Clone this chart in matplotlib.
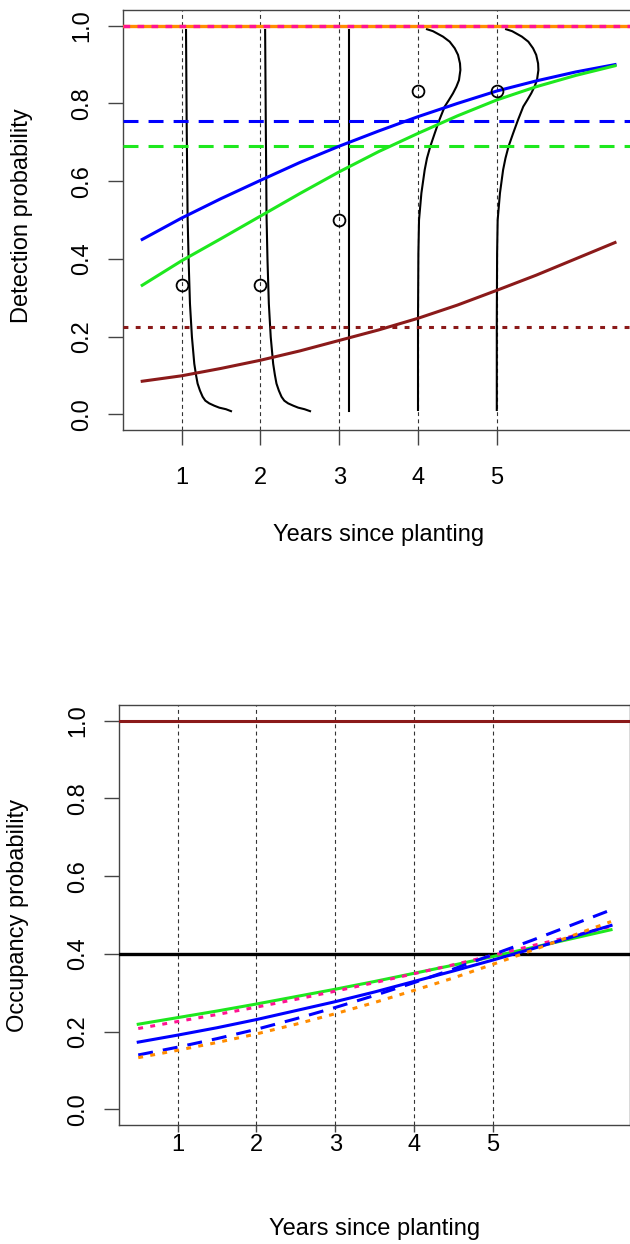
import matplotlib
matplotlib.use("Agg")
import matplotlib.pyplot as plt

plt.rcParams['font.family'] = ['Liberation Sans', 'DejaVu Sans']

# ---- data ----
years = [1, 2, 3, 4, 5]
x_grid = [0.5, 1.0, 1.5, 2.0, 2.5, 3.0, 3.5, 4.0, 4.5, 5.0, 5.5, 6.0, 6.5]

# detection panel
naive_det = [0.333, 0.333, 0.5, 0.833, 0.833]
det_blue = [0.450, 0.505, 0.555, 0.602, 0.648, 0.690, 0.729, 0.766, 0.800, 0.832, 0.858, 0.881, 0.900]
det_green = [0.332, 0.395, 0.452, 0.510, 0.568, 0.624, 0.676, 0.723, 0.768, 0.809, 0.843, 0.872, 0.897]
det_red = [0.085, 0.099, 0.118, 0.139, 0.163, 0.190, 0.217, 0.247, 0.281, 0.319, 0.358, 0.400, 0.442]
det_const_blue = 0.756
det_const_green = 0.690
det_const_red = 0.225
det_const_top = 1.0

# sideways posterior densities per year (probability level, horizontal offset)
dens_low_p = [0.008, 0.013, 0.017, 0.022, 0.028, 0.035, 0.045, 0.061, 0.079,
              0.101, 0.130, 0.199, 0.285, 0.397, 0.508, 0.757, 0.989]
dens_y1 = [0.627, 0.563, 0.478, 0.415, 0.351, 0.301, 0.267, 0.233, 0.203,
           0.183, 0.161, 0.131, 0.106, 0.089, 0.076, 0.064, 0.056]
dens_y2 = [0.630, 0.560, 0.480, 0.418, 0.352, 0.303, 0.268, 0.234, 0.204,
           0.184, 0.162, 0.131, 0.107, 0.090, 0.078, 0.068, 0.060]
dens_flat_p = [0.009, 0.989]
dens_y3 = [0.124, 0.124]
dens_high_p = [0.011, 0.243, 0.414, 0.500, 0.569, 0.629, 0.659, 0.690, 0.723,
               0.757, 0.792, 0.809, 0.826, 0.843, 0.860, 0.886, 0.903, 0.925,
               0.942, 0.959, 0.972, 0.986, 0.991]
dens_y4 = [0.0, 0.0, 0.005, 0.013, 0.043, 0.085, 0.114, 0.157, 0.212,
           0.270, 0.339, 0.393, 0.444, 0.487, 0.520, 0.538, 0.533, 0.508,
           0.466, 0.402, 0.317, 0.190, 0.114]
dens_y5 = [0.0, 0.0, 0.004, 0.011, 0.040, 0.080, 0.110, 0.150, 0.207,
           0.268, 0.336, 0.388, 0.437, 0.478, 0.510, 0.528, 0.524, 0.500,
           0.460, 0.400, 0.318, 0.195, 0.118]

# occupancy panel
occ_green = [0.219, 0.236, 0.253, 0.271, 0.290, 0.309, 0.329, 0.350, 0.371, 0.393, 0.416, 0.439, 0.462]
occ_pink = [0.208, 0.226, 0.244, 0.263, 0.283, 0.304, 0.326, 0.349, 0.372, 0.396, 0.421, 0.445, 0.471]
occ_blue = [0.173, 0.191, 0.210, 0.231, 0.254, 0.277, 0.302, 0.329, 0.356, 0.384, 0.413, 0.443, 0.473]
occ_blue_dash = [0.140, 0.160, 0.182, 0.206, 0.233, 0.262, 0.293, 0.326, 0.361, 0.398, 0.435, 0.474, 0.513]
occ_orange = [0.133, 0.152, 0.172, 0.194, 0.219, 0.246, 0.275, 0.306, 0.338, 0.373, 0.409, 0.446, 0.483]
occ_const_red = 1.0
occ_const_black = 0.4

BLUE = '#0000ff'
GREEN = '#1ee81e'
DRED = '#8b1a1a'
ORANGE = '#ff8c00'
PINK = '#ff1493'
DASH = (4.9, 3.3)
DOT = (1.6, 2.4)

FS = 17

fig = plt.figure(figsize=(6.3, 12.44), dpi=100)


def frame(ax, ylabel, tick_len, tick_pad):
    ax.set_xlim(0.26, 6.74)
    ax.set_ylim(-0.04, 1.04)
    ax.set_xticks(years)
    ax.set_yticks([0.0, 0.2, 0.4, 0.6, 0.8, 1.0])
    ax.set_yticklabels(['0.0', '0.2', '0.4', '0.6', '0.8', '1.0'])
    for s in ax.spines.values():
        s.set_color('#444444')
        s.set_linewidth(1.0)
    ax.tick_params(axis='x', direction='out', length=tick_len, width=1.0,
                   color='#444444', labelsize=FS, pad=tick_pad)
    ax.tick_params(axis='y', direction='out', length=10.8, width=1.0,
                   color='#444444', labelsize=FS, pad=11.0, labelrotation=90)
    for lab in ax.get_yticklabels():
        lab.set_va('center')
    for yr in years:
        ax.axvline(yr, color='#333333', lw=0.8, dashes=(3.5, 3.0), zorder=1)
    ax.set_ylabel(ylabel, fontsize=FS, va='center')
    ax.set_xlabel('Years since planting', fontsize=FS, va='center')


# ---- detection probability ----
ax1 = fig.add_axes([0.1957, 0.6545, 0.8105, 0.3373])
frame(ax1, 'Detection probability', 10.8, 16.0)
ax1.yaxis.set_label_coords(-0.198, 0.51)
ax1.xaxis.set_label_coords(0.5, -0.251)

for yr, p, off in [(1, dens_low_p, dens_y1), (2, dens_low_p, dens_y2),
                   (3, dens_flat_p, dens_y3), (4, dens_high_p, dens_y4),
                   (5, dens_high_p, dens_y5)]:
    ax1.plot([yr + o for o in off], p, color='black', lw=1.5, zorder=2,
             solid_joinstyle='round')

ax1.axhline(det_const_top, color=ORANGE, lw=2.4, zorder=3)
ax1.axhline(det_const_top, color=PINK, lw=2.4, dashes=(2.0, 2.2), zorder=3)
ax1.axhline(det_const_blue, color=BLUE, lw=2.2, dashes=DASH, zorder=3)
ax1.axhline(det_const_green, color=GREEN, lw=2.2, dashes=DASH, zorder=3)
ax1.axhline(det_const_red, color=DRED, lw=2.2, dashes=DOT, zorder=3)

ax1.plot(x_grid, det_blue, color=BLUE, lw=2.2, zorder=4)
ax1.plot(x_grid, det_green, color=GREEN, lw=2.2, zorder=4)
ax1.plot(x_grid, det_red, color=DRED, lw=2.2, zorder=4)

ax1.plot(years, naive_det, 'o', mfc='none', mec='black', ms=8.5, mew=1.3, zorder=5)

# ---- occupancy probability ----
ax2 = fig.add_axes([0.1894, 0.0957, 0.8105, 0.3376])
frame(ax2, 'Occupancy probability', 5.0, 1.2)
ax2.yaxis.set_label_coords(-0.198, 0.5)
ax2.xaxis.set_label_coords(0.5, -0.2476)

ax2.axhline(occ_const_red, color=DRED, lw=2.2, zorder=3)
ax2.axhline(occ_const_black, color='black', lw=2.4, zorder=3)

ax2.plot(x_grid, occ_green, color=GREEN, lw=2.2, zorder=4)
ax2.plot(x_grid, occ_pink, color=PINK, lw=2.2, dashes=DOT, zorder=4)
ax2.plot(x_grid, occ_blue, color=BLUE, lw=2.2, zorder=4)
ax2.plot(x_grid, occ_blue_dash, color=BLUE, lw=2.2, dashes=DASH, zorder=4)
ax2.plot(x_grid, occ_orange, color=ORANGE, lw=2.2, dashes=DOT, zorder=4)

fig.savefig('out.png', dpi=100)
